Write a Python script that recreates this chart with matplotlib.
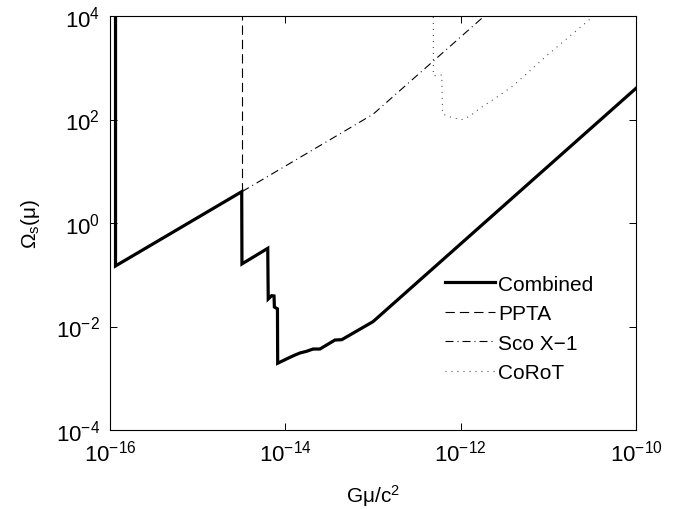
import numpy as np
import matplotlib
matplotlib.use("Agg")
import matplotlib.pyplot as plt

plt.rcParams['font.family'] = ['Liberation Sans', 'DejaVu Sans']
plt.rcParams['mathtext.fontset'] = 'custom'
plt.rcParams['mathtext.rm'] = 'Liberation Sans'
plt.rcParams['mathtext.it'] = 'Liberation Sans'
plt.rcParams['mathtext.sf'] = 'Liberation Sans'
plt.rcParams['mathtext.default'] = 'regular'

# values (G mu / c^2 , Omega_s)
comb_x = [1.156e-16, 1.156e-16, 3.18e-15, 3.2e-15, 6.3e-15, 6.38e-15, 6.98e-15, 7.43e-15,
          7.5e-15, 8.13e-15, 8.18e-15, 1.13e-14, 1.29e-14, 1.47e-14, 1.74e-14, 2.07e-14,
          2.48e-14, 3.68e-14, 4.4e-14, 1.0e-13, 1.0e-10]
comb_y = [1e6, 0.148, 4.03, 0.162, 0.324, 0.034, 0.0394, 0.0389,
          0.0238, 0.0219, 0.00195, 0.00254, 0.00281, 0.00308, 0.00331, 0.00367,
          0.00367, 0.00548, 0.00556, 0.0124, 401]

ppta_x = [3.2e-15, 3.2e-15]
ppta_y = [4.03, 1e6]

sco_x = [3.2e-15, 1.0e-13, 3.16e-12]
sco_y = [4.03, 126, 2.2e4]

corot_x = [4.88e-13, 4.88e-13, 6.08e-13, 6.22e-13, 7.0e-13, 7.87e-13, 1.02e-12, 1.22e-12,
           1.39e-12, 1.66e-12, 2.5e-12, 3.98e-12, 9.57e-12, 2.93e-11, 3.55e-11]
corot_y = [1e6, 701, 724, 128, 118, 110, 99, 112,
           130, 165, 260, 450, 1710, 8470, 1.12e4]

fig = plt.figure(figsize=(6.88, 5.10), dpi=100)
ax = fig.add_axes([110/688, 1-431/510, 526/688, 414/510])

ax.plot(comb_x, comb_y, '-', color='k', lw=2.3, label='Combined', solid_joinstyle='miter')
ax.plot(ppta_x, ppta_y, color='k', lw=0.8, dashes=(8.4, 4.5), label='PPTA')
ax.plot(sco_x, sco_y, color='k', lw=0.8, dashes=(7.2, 3.6, 0.9, 3.6), label='Sco X\u22121')
ax.plot(corot_x, corot_y, color='#444444', lw=0.8, dashes=(0.9, 4.5), label='CoRoT')

ax.set_xscale('log')
ax.set_yscale('log')
ax.set_xlim(1e-16, 1e-10)
ax.set_ylim(1e-4, 1e4)
ax.set_xticks([1e-16, 1e-14, 1e-12, 1e-10])
ax.set_yticks([1e-4, 1e-2, 1e0, 1e2, 1e4])
ax.minorticks_off()
ax.tick_params(direction='in', top=True, right=True, length=5, width=0.7,
               labelsize=16, pad=7)
for s in ax.spines.values():
    s.set_linewidth(0.8)

ax.set_xlabel(r'$G\mu/c^2$', fontsize=15, labelpad=12)
ax.set_ylabel(r'$\Omega_s(\mu)$', fontsize=15, labelpad=10)

ax.legend(loc='upper left', bbox_to_anchor=(0.637, 0.375), frameon=False,
          fontsize=15, handlelength=2.4, handletextpad=0.15, labelspacing=0.5,
          borderpad=0, borderaxespad=0)

plt.savefig('out.png', dpi=100)
